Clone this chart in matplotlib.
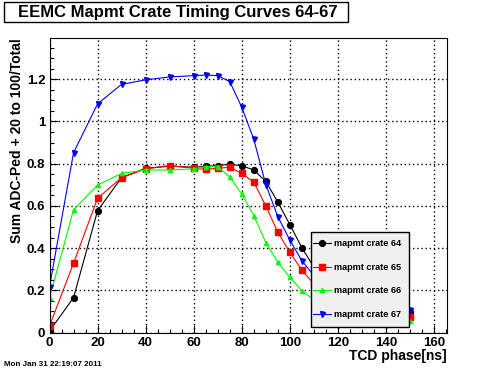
import matplotlib
matplotlib.use('Agg')
import matplotlib.pyplot as plt
from matplotlib.patches import Rectangle
from matplotlib.ticker import MultipleLocator

plt.rcParams['font.family'] = ['Liberation Sans', 'DejaVu Sans']
plt.rcParams['font.weight'] = 'bold'

# TCD phase points (ns)
tcd = [0, 10, 20, 30, 40, 50, 60, 65, 70, 75, 80, 85, 90, 95, 100, 105,
       110, 115, 120, 125, 130, 135, 140, 145, 150]

# crate curves (values past 105 ns are mostly under the legend, estimated)
crate64 = [0.007, 0.165, 0.577, 0.734, 0.778, 0.788, 0.783, 0.787, 0.791, 0.797, 0.790, 0.770,
           0.716, 0.618, 0.511, 0.402, 0.31, 0.24, 0.19, 0.155, 0.13, 0.115, 0.105, 0.100, 0.099]
crate65 = [0.031, 0.328, 0.636, 0.734, 0.775, 0.791, 0.778, 0.773, 0.778, 0.783, 0.754, 0.712,
           0.600, 0.475, 0.380, 0.296, 0.23, 0.18, 0.145, 0.12, 0.10, 0.088, 0.080, 0.075, 0.073]
crate66 = [0.164, 0.581, 0.699, 0.754, 0.770, 0.770, 0.775, 0.786, 0.786, 0.737, 0.656, 0.554,
           0.426, 0.333, 0.262, 0.198, 0.155, 0.125, 0.10, 0.085, 0.073, 0.065, 0.060, 0.057, 0.056]
crate67 = [0.217, 0.852, 1.083, 1.176, 1.197, 1.211, 1.217, 1.220, 1.217, 1.189, 1.067, 0.916,
           0.701, 0.549, 0.438, 0.340, 0.27, 0.215, 0.18, 0.155, 0.135, 0.122, 0.114, 0.108, 0.107]

labels = ['mapmt crate 64', 'mapmt crate 65', 'mapmt crate 66', 'mapmt crate 67']
colors = ['#000000', '#ff0000', '#00ff00', '#0000ff']
markers = ['o', 's', '^', 'v']
msizes = [4.2, 4.0, 3.0, 3.6]

W, H = 496, 372
fig = plt.figure(figsize=(W / 100, H / 100), dpi=100)
fig.patch.set_facecolor('white')
ax = fig.add_axes([49.5 / W, 1 - 332.5 / H, (447 - 49.5) / W, (332.5 - 38.3) / H])

for ys, lab, c, m, ms in zip([crate64, crate65, crate66, crate67], labels, colors, markers, msizes):
    ax.plot(tcd, ys, color=c, marker=m, markersize=ms, linewidth=0.8, label=lab,
            markeredgecolor=c, markerfacecolor=c, zorder=3)

ax.set_xlim(0, 165.4)
ax.set_ylim(0, 1.394)
ax.xaxis.set_major_locator(MultipleLocator(20))
ax.xaxis.set_minor_locator(MultipleLocator(5))
ax.yaxis.set_minor_locator(MultipleLocator(0.05))
ax.set_yticks([0, 0.2, 0.4, 0.6, 0.8, 1.0, 1.2])
ax.set_yticklabels(['0', '0.2', '0.4', '0.6', '0.8', '1', '1.2'])
ax.tick_params(which='both', direction='in', top=False, right=False, labelsize=9.5, width=0.8)
ax.tick_params(which='major', length=5.5)
ax.tick_params(which='minor', length=2.7)
ax.tick_params(axis='x', pad=3.5)
ax.tick_params(axis='y', pad=3.0)
ax.grid(True, which='major', color='black', linestyle=(0, (1, 2)), linewidth=1.0, zorder=1)
for s in ax.spines.values():
    s.set_linewidth(0.8)
    s.set_zorder(6)

# legend: grey box drawn separately, entries placed inside it
ax.add_patch(Rectangle((0.657, 0.0197), 0.248, 0.323, transform=ax.transAxes,
                       facecolor='#f0f0f0', edgecolor='black', linewidth=1.0, zorder=4))
leg = ax.legend(loc='upper left', bbox_to_anchor=(0.663, 0.3175), frameon=False,
                borderaxespad=0, borderpad=0, prop={'size': 6.6, 'weight': 'bold'},
                labelspacing=1.6, handlelength=2.0, handletextpad=0.25)
leg.set_zorder(5)

fig.text(17.5 / W, 1 - 38 / H, 'Sum ADC-Ped + 20 to 100/Total', rotation=90,
         ha='center', va='top', fontsize=10)
fig.text(447 / W, 1 - 356 / H, 'TCD phase[ns]', ha='right', va='center', fontsize=10)
fig.text(4 / W, 1 - 364 / H, 'Mon Jan 31 22:19:07 2011', ha='left', va='center', fontsize=5.8)

# title in a box, like the ROOT pave
title = fig.text(18 / W, 1 - 12 / H, 'EEMC Mapmt Crate Timing Curves 64-67',
                 ha='left', va='center', fontsize=12)
fig.canvas.draw()
bb = title.get_window_extent()
right = bb.x1 + 10
fig.patches.append(Rectangle((4 / W, 1 - 22 / H), (right - 4) / W, 20 / H,
                             transform=fig.transFigure, fill=False, edgecolor='black',
                             linewidth=1.0))

fig.savefig('out.png', dpi=100)
